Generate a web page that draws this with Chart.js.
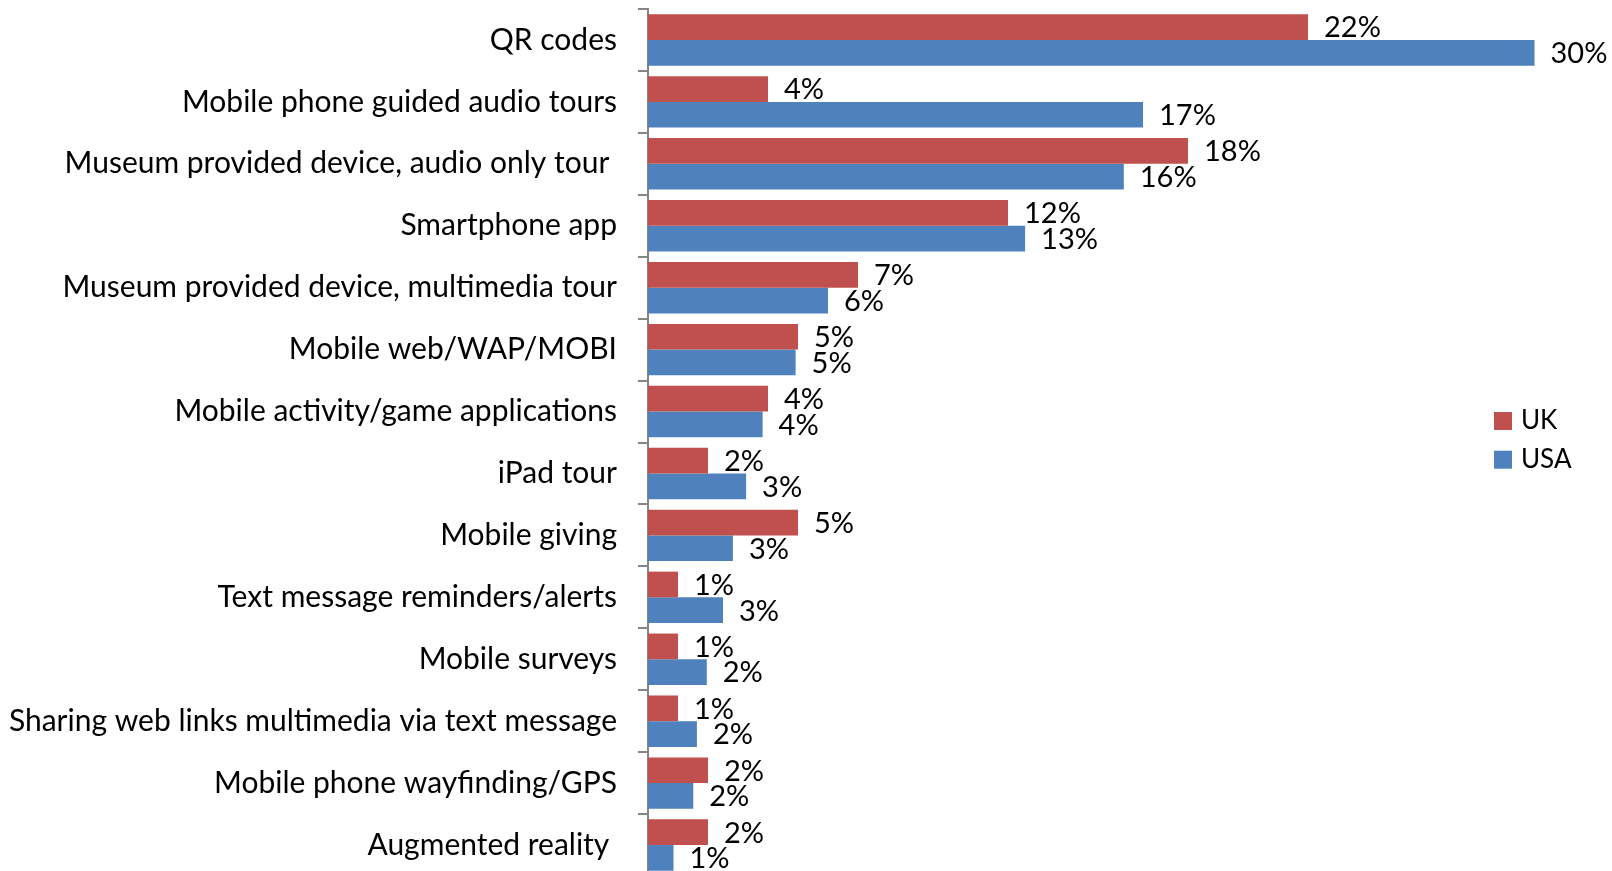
<!DOCTYPE html>
<html>
<head>
<meta charset="utf-8">
<title>Mobile technologies in museums: UK vs USA</title>
<script src="https://cdn.jsdelivr.net/npm/chart.js@4/dist/chart.umd.min.js"></script>
<style>
  html, body { margin: 0; padding: 0; background: #fff; overflow: hidden; }
  #chart-usage { display: block; }
</style>
</head>
<body>
<canvas id="chart-usage" width="1612" height="890"></canvas>
<script>
// ─── Data ────────────────────────────────────────────────────────────────────
const CATEGORIES = [
  "QR codes",
  "Mobile phone guided audio tours",
  "Museum provided device, audio only tour ",
  "Smartphone app",
  "Museum provided device, multimedia tour",
  "Mobile web/WAP/MOBI",
  "Mobile activity/game applications",
  "iPad tour",
  "Mobile giving",
  "Text message reminders/alerts",
  "Mobile surveys",
  "Sharing web links multimedia via text message",
  "Mobile phone wayfinding/GPS",
  "Augmented reality "
];

const UK_VALUES  = [22, 4, 18, 12, 7, 5, 4, 2, 5, 1, 1, 1, 2, 2];
const USA_VALUES = [29.55, 16.5, 15.86, 12.57, 6.0, 4.92, 3.82, 3.27, 2.83, 2.5, 1.96, 1.63, 1.51, 0.85];

const SERIES_NAMES = ["UK", "USA"];
const COLORS = ["#c0504d", "#4f81bd"];

const FONT = "Lato, 'Open Sans', sans-serif";

// ─── Value labels at the end of each bar ─────────────────────────────────────
const valueLabels = {
  id: "valueLabels",
  afterDatasetsDraw(chart) {
    const ctx = chart.ctx;
    ctx.save();
    ctx.font = `29px ${FONT}`;
    ctx.fillStyle = "#000";
    ctx.textAlign = "left";
    ctx.textBaseline = "middle";
    chart.data.datasets.forEach((ds, i) => {
      const meta = chart.getDatasetMeta(i);
      meta.data.forEach((bar, j) => {
        ctx.fillText(Math.round(ds.data[j]) + "%", bar.x + 16, bar.y + 1);
      });
    });
    ctx.restore();
  }
};

// ─── Legend box on the right ─────────────────────────────────────────────────
const sideLegend = {
  id: "sideLegend",
  afterDraw(chart) {
    const ctx = chart.ctx;
    ctx.save();
    ctx.font = `26px ${FONT}`;
    ctx.textAlign = "left";
    ctx.textBaseline = "middle";
    chart.data.datasets.forEach((ds, i) => {
      const y = 412 + i * 38.7;
      ctx.fillStyle = ds.backgroundColor;
      ctx.fillRect(1494, y, 18, 18);
      ctx.fillStyle = "#000";
      ctx.fillText(ds.label, 1521, y + 9);
    });
    ctx.restore();
  }
};

// ─── Chart ───────────────────────────────────────────────────────────────────
const canvas = document.getElementById("chart-usage");

new Chart(canvas, {
  type: "bar",
  data: {
    labels: CATEGORIES,
    datasets: [
      {
        label: SERIES_NAMES[0],
        data: UK_VALUES,
        backgroundColor: COLORS[0],
        categoryPercentage: 0.83,
        barPercentage: 1.0
      },
      {
        label: SERIES_NAMES[1],
        data: USA_VALUES,
        backgroundColor: COLORS[1],
        categoryPercentage: 0.83,
        barPercentage: 1.0
      }
    ]
  },
  options: {
    indexAxis: "y",
    responsive: false,
    animation: false,
    layout: { padding: { top: 9, bottom: 14, left: 0, right: 64 } },
    plugins: {
      legend: { display: false },
      tooltip: { enabled: false }
    },
    scales: {
      x: {
        display: false,
        min: 0,
        max: 30
      },
      y: {
        // fixed axis width; drop the label padding so bars fill the full height
        afterFit: (scale) => {
          scale.width = 648;
          scale.paddingTop = 0;
          scale.paddingBottom = 0;
        },
        grid: {
          offset: true,
          drawOnChartArea: false,
          drawTicks: true,
          tickLength: 10,
          color: "#868686",
          lineWidth: 2
        },
        border: { color: "#868686", width: 2 },
        ticks: {
          padding: 21,
          color: "#000",
          font: { family: FONT, size: 30 }
        }
      }
    }
  },
  plugins: [valueLabels, sideLegend]
});
</script>
</body>
</html>
